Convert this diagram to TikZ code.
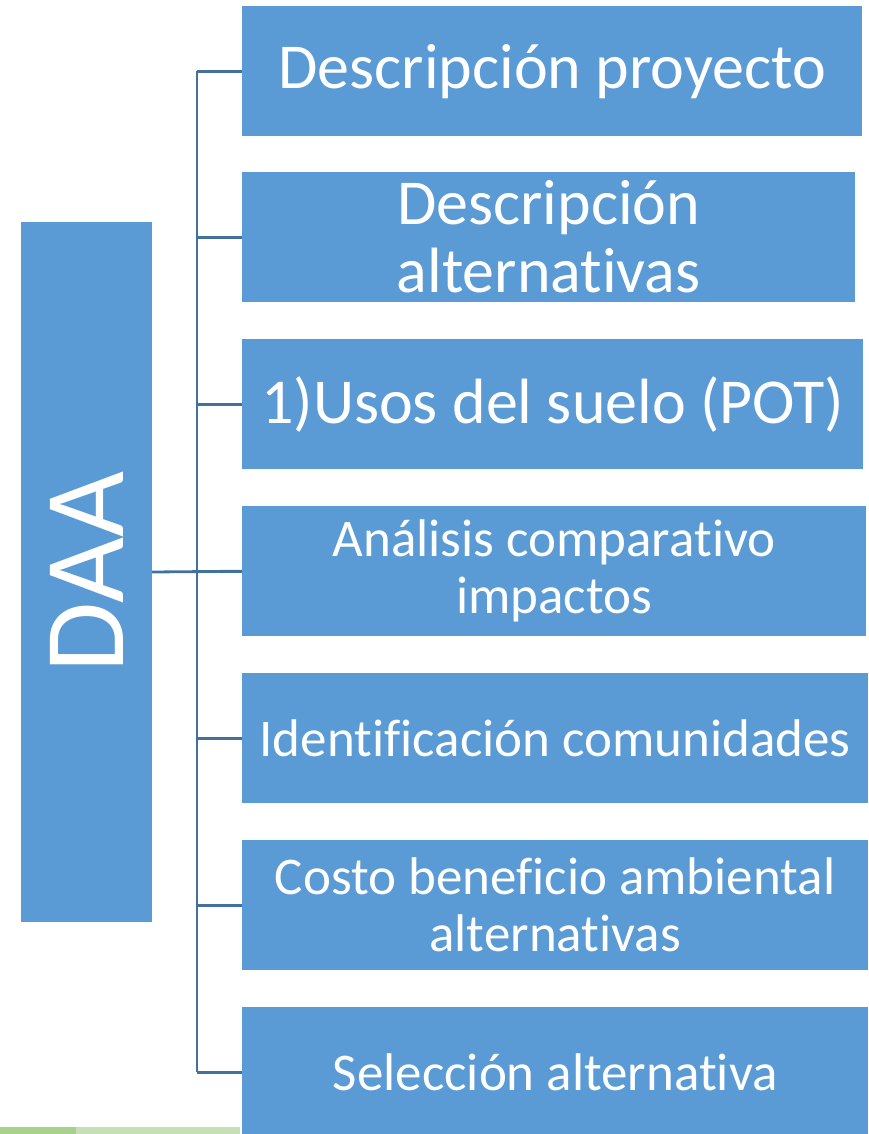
\documentclass[tikz,border=0pt]{standalone}
\usepackage{fontspec}
\setmainfont{Carlito}[Ligatures=NoCommon]
\definecolor{boxblue}{HTML}{5B9BD5}
\definecolor{linkblue}{HTML}{41719C}
\definecolor{bargreen}{HTML}{A9D18E}
\definecolor{barlight}{HTML}{C5E0B4}
\tikzset{
  itembox/.style={rectangle, fill=boxblue, text=white, align=center, anchor=north west,
    minimum height=130pt, inner sep=0pt},
  link/.style={draw=linkblue, line width=2.8pt}
}

\begin{document}
\begin{tikzpicture}[x=1pt,y=-1pt]
    \useasboundingbox (0,0) rectangle (869,1134);
    
    % green bar at the foot
    \fill [bargreen] (0,1127) rectangle (76,1134);
    \fill [barlight] (76,1127) rectangle (240,1134);
    
    \node [rectangle, fill=boxblue, minimum width=131pt, minimum height=700pt, inner sep=0pt] (daa) at (86.5,572)
    	{\rotatebox{90}{\textcolor{white}{\fontsize{114}{120}\selectfont DAA}}};
    
    \foreach \i/\top/\w/\fs/\ls/\txt in {
    	1/6/620/64/70/{Descripción proyecto},
    	2/172/613/64/68/{Descripción\\alternativas},
    	3/339/621/64/70/{1)Usos del suelo (POT)},
    	4/506/624/53/57/{Análisis comparativo\\impactos},
    	5/673/626/53/57/{Identificación comunidades},
    	6/840/626/53/57/{Costo beneficio ambiental\\alternativas},
    	7/1007/626/53/57/{Selección alternativa}}
    	\node [itembox, minimum width=\w pt, font=\fontsize{\fs}{\ls}\selectfont] (b\i) at (242,\top) {\txt};
    
    % tree
    \coordinate (trunk) at (197,0);
    \draw [link] (trunk |- b1.west) -- (trunk |- b7.west);
    \draw [link] (daa.east) -- (b4.west);
    \foreach \i in {1,...,7}
    	\draw [link] (trunk |- b\i.west) -- (b\i.west);
    	
\end{tikzpicture}
\end{document}
